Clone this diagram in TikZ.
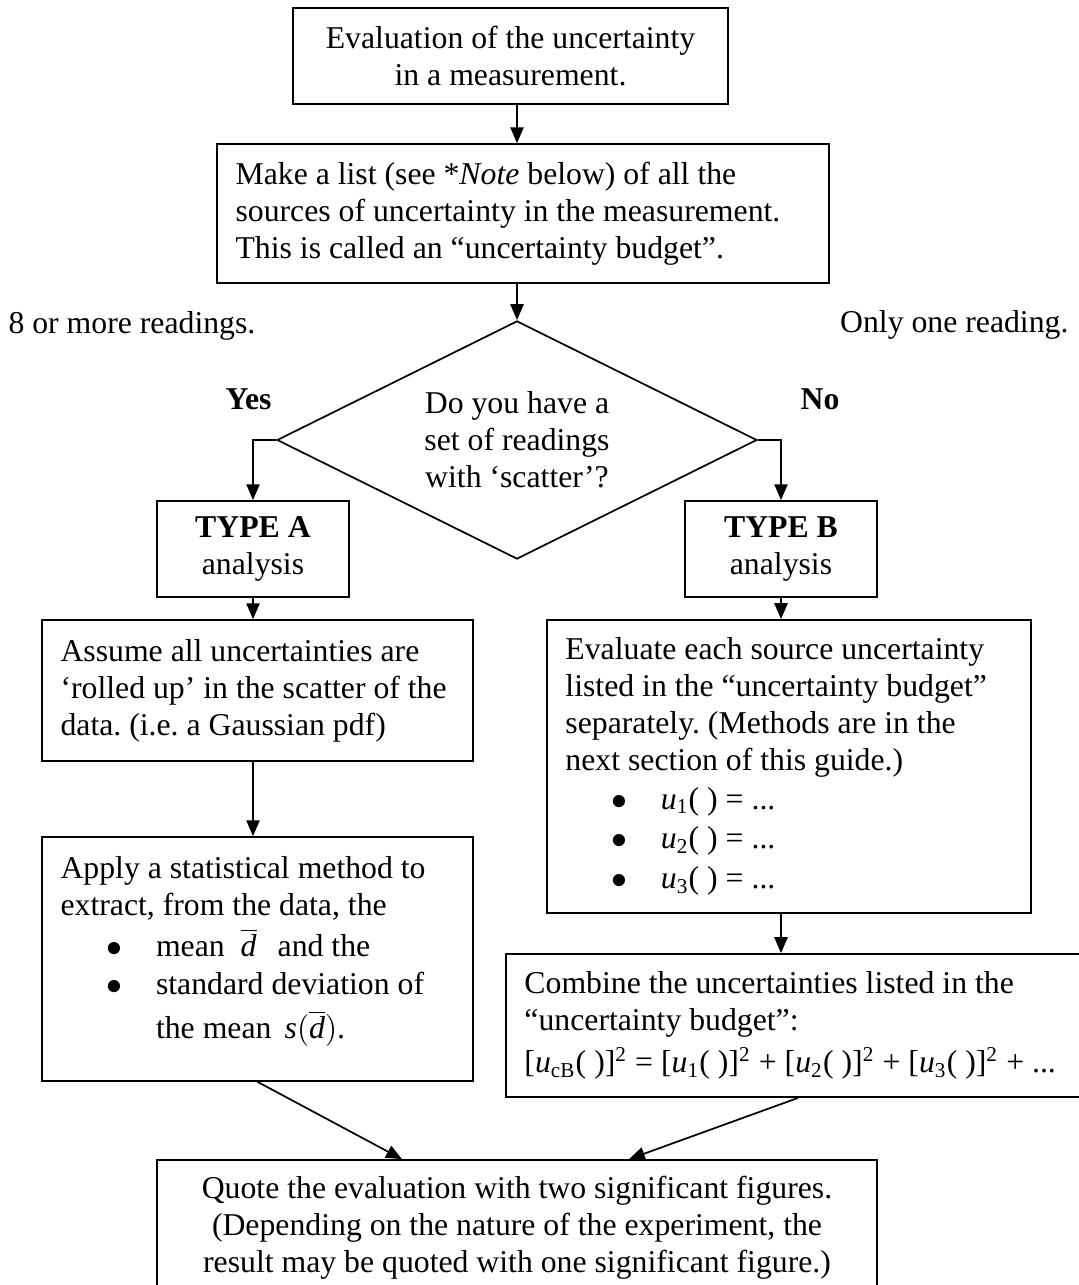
\documentclass[tikz,border=0pt]{standalone}
\usepackage{fontspec}
\setmainfont{Liberation Serif}
\usetikzlibrary{shapes.geometric,arrows.meta,calc}

\newcommand{\bitem}{\hspace*{17.5pt}\makebox[18.6pt][l]{$\bullet$}}
\newcommand{\bgap}{\hspace*{36.1pt}}
\newcommand{\dbar}{$\overline{\textit{d}}$}

\begin{document}
\begin{tikzpicture}[
every node/.style={font=\fontsize{12}{14}\selectfont\frenchspacing},
x=0.378pt,
y=-0.378pt,
flowbox/.style={draw,line width=0.65pt,inner xsep=7pt,inner ysep=0pt,align=flush left},
midbox/.style={flowbox,align=flush center},
arr/.style={line width=0.65pt,-{Triangle[length=6pt,width=5pt]}},
tag/.style={inner sep=0pt}
]

\useasboundingbox (0,0) rectangle (1079,1285);

% top of the chart
\node[midbox,text width=150.4pt,minimum height=36.3pt] (eval) at (510.5,56)
  {Evaluation of the uncertainty\\ in a measurement.};
\node[flowbox,text width=217.3pt,minimum height=52.5pt] (list) at (523,213.5)
  {Make a list (see *\textit{Note} below) of all the\\
   sources of uncertainty in the measurement.\\
   This is called an “uncertainty budget”.};

% decision
\node[draw,diamond,aspect=2,line width=0.65pt,minimum width=181.4pt,
  minimum height=90pt,inner sep=0pt,align=flush center] (dec) at (517,440)
  {Do you have a\\ set of readings\\ with ‘scatter’?};

\node[tag,anchor=base west] (more) at (8,334) {8 or more readings.};
\node[tag,anchor=base east] (one) at (1069,333) {Only one reading.};
\node[tag,anchor=base] (yes) at (248.5,410) {\textbf{Yes}};
\node[tag,anchor=base] (no) at (820,410) {\textbf{No}};

% type A branch
\node[midbox,text width=58.6pt,minimum height=36.3pt] (typea) at (253,549)
  {\textbf{TYPE A}\\ analysis};
\node[flowbox,text width=148.9pt,minimum height=53.3pt] (assume) at (257.5,690.5)
  {Assume all uncertainties are\\
   ‘rolled up’ in the scatter of the\\
   data. (i.e. a Gaussian pdf)};
\node[flowbox,text width=148.9pt,minimum height=92.2pt] (apply) at (257.5,959)
  {Apply a statistical method to\\
   extract, from the data, the\\[1.5pt]
   \bitem mean\hspace{3pt} \dbar\hspace{5pt} and the\\[0.5pt]
   \bitem standard deviation of\\[2.5pt]
   \bgap the mean\hspace{2pt} \textit{s}$\bigl(\overline{\textit{d}}\bigr)$.\rule[-9pt]{0pt}{1pt}};

% type B branch
\node[midbox,text width=58.6pt,minimum height=36.3pt] (typeb) at (781,549)
  {\textbf{TYPE B}\\ analysis};
\node[flowbox,text width=169pt,minimum height=110.8pt] (evalb) at (789,766.5)
  {Evaluate each source uncertainty\\
   listed in the “uncertainty budget”\\
   separately. (Methods are in the\\
   next section of this guide.)\\[0.5pt]
   \bitem \textit{u}\textsubscript{1}( ) = ...\\[1pt]
   \bitem \textit{u}\textsubscript{2}( ) = ...\\[1pt]
   \bitem \textit{u}\textsubscript{3}( ) = ...};
\node[flowbox,text width=206.8pt,minimum height=54.1pt] (combine) at (798,1025.5)
  {Combine the uncertainties listed in the\\
   “uncertainty budget”:\\[2pt]
   {[}\textit{u}\textsubscript{cB}( )]\textsuperscript{2} = [\textit{u}\textsubscript{1}( )]\textsuperscript{2} + [\textit{u}\textsubscript{2}( )]\textsuperscript{2} + [\textit{u}\textsubscript{3}( )]\textsuperscript{2} + ...};

% result
\node[midbox,text width=258.2pt,minimum height=51.4pt] (quote) at (517,1228)
  {Quote the evaluation with two significant figures.\\
   (Depending on the nature of the experiment, the\\
   result may be quoted with one significant figure.)};

% connecting arrows
\draw[arr] (eval.south -| dec.north) -- (list.north -| dec.north);
\draw[arr] (list.south -| dec.north) -- (dec.north);
\draw[arr] (dec.west) -| (typea.north);
\draw[arr] (dec.east) -| (typeb.north);

\draw[arr] (typea.south) -- (typea.south |- assume.north);
\draw[arr] (assume.south -| typea.south) -- (apply.north -| typea.south);

\draw[arr] (typeb.south) -- (typeb.south |- evalb.north);
\draw[arr] (evalb.south -| typeb.south) -- (combine.north -| typeb.south);

\draw[arr] (apply.south) -- ($(quote.north)+(-115,0)$);
\draw[arr] (combine.south) -- ($(quote.north)+(112,0)$);

\end{tikzpicture}
\end{document}
